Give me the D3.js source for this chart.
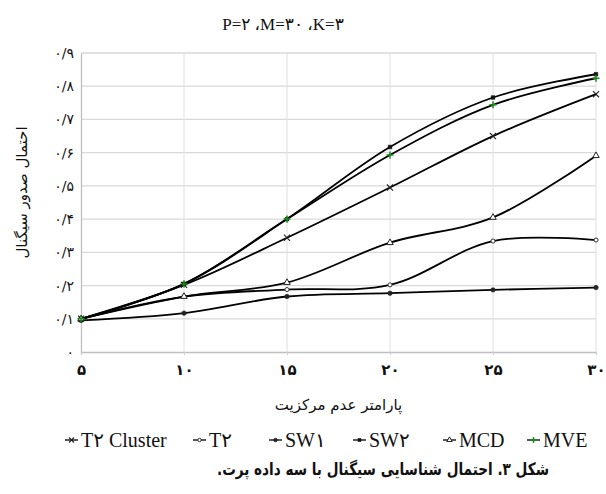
<!DOCTYPE html>
<html>
<head>
<meta charset="utf-8">
<script src="https://cdn.jsdelivr.net/npm/d3@7"></script>
<style>
html,body{margin:0;padding:0;background:#fff;}
svg{display:block;}
</style>
</head>
<body>
<svg id="chart" width="606" height="494"></svg>
<script>
const xValues = [5, 10, 15, 20, 25, 30];
const xTickLabels = ["۵", "۱۰", "۱۵", "۲۰", "۲۵", "۳۰"];
const yTicks = [0, 0.1, 0.2, 0.3, 0.4, 0.5, 0.6, 0.7, 0.8, 0.9];
const yTickLabels = ["۰", "۰/۱", "۰/۲", "۰/۳", "۰/۴", "۰/۵", "۰/۶", "۰/۷", "۰/۸", "۰/۹"];

const seriesNames = ["T۲ Cluster", "T۲", "SW۱", "SW۲", "MCD", "MVE"];
const t2Cluster = [0.100, 0.202, 0.344, 0.495, 0.650, 0.776];
const t2        = [0.100, 0.167, 0.188, 0.202, 0.334, 0.337];
const sw1       = [0.095, 0.117, 0.167, 0.177, 0.187, 0.194];
const sw2       = [0.100, 0.205, 0.400, 0.617, 0.766, 0.836];
const mcd       = [0.100, 0.167, 0.209, 0.329, 0.405, 0.591];
const mve       = [0.100, 0.205, 0.400, 0.593, 0.744, 0.824];

const titleText = "P=۲ ،M=۳۰ ،K=۳";
const yTitle = "احتمال صدور سیگنال";
const xTitle = "پارامتر عدم مرکزیت";
const caption = "شکل ۳. احتمال شناسایی سیگنال با سه داده پرت.";

const seriesData = [t2Cluster, t2, sw1, sw2, mcd, mve];
const markerTypes = ["x", "circle", "dot", "square", "triangle", "plus"];
const markerColors = ["#222", "#333", "#222", "#111", "#222", "#1a8a1a"];

const svg = d3.select("#chart");
const mixed = "'Liberation Serif','DejaVu Sans',serif";

const x = d3.scaleLinear().domain([5, 30]).range([81, 596]);
const y = d3.scaleLinear().domain([0, 0.9]).range([352, 53]);

// gridlines
svg.append("g").selectAll("line.h").data(yTicks.slice(1)).join("line")
  .attr("x1", x(5)).attr("x2", x(30))
  .attr("y1", d => y(d)).attr("y2", d => y(d))
  .attr("stroke", "#d9d9d9").attr("stroke-width", 1.3);
svg.append("g").selectAll("line.v").data(xValues.slice(1)).join("line")
  .attr("x1", d => x(d)).attr("x2", d => x(d))
  .attr("y1", y(0.9)).attr("y2", y(0))
  .attr("stroke", "#e0e0e0").attr("stroke-width", 1);

// axes
const xAxis = d3.axisBottom(x).tickValues(xValues).tickSize(3)
  .tickFormat((d, i) => xTickLabels[i]);
const gx = svg.append("g").attr("transform", `translate(0,${y(0)})`).call(xAxis);
gx.select(".domain").attr("stroke", "#bfbfbf").attr("stroke-width", 1.3);
gx.selectAll(".tick line").attr("stroke", "#d0d0d0");
gx.selectAll(".tick text").attr("dy", "1.1em")
  .style("font-family", "'DejaVu Sans',sans-serif").style("font-size", "15px")
  .style("font-weight", "bold").attr("fill", "#111");

const yAxis = d3.axisLeft(y).tickValues(yTicks).tickSize(0).tickPadding(7)
  .tickFormat((d, i) => yTickLabels[i]);
const gy = svg.append("g").attr("transform", `translate(${x(5)},0)`).call(yAxis);
gy.select(".domain").attr("stroke", "#bfbfbf").attr("stroke-width", 1.3);
gy.selectAll(".tick text").style("font-family", "'DejaVu Sans',sans-serif")
  .style("font-size", "14px").attr("fill", "#111");

// lines
const line = d3.line().x((d, i) => x(xValues[i])).y(d => y(d))
  .curve(d3.curveCatmullRom.alpha(0.5));
svg.append("g").selectAll("path").data(seriesData).join("path")
  .attr("d", d => line(d)).attr("fill", "none")
  .attr("stroke", "#000").attr("stroke-width", 1.8);

function drawMarker(g, type, color, cx, cy, s) {
  const m = g.append("g").attr("transform", `translate(${cx},${cy})`);
  if (type === "x") {
    m.append("path").attr("d", d3.symbol(d3.symbolX, s * 10)())
      .attr("fill", "none").attr("stroke", color).attr("stroke-width", 1.1);
  } else if (type === "plus") {
    m.append("path").attr("d", d3.symbol(d3.symbolPlus, s * 7)())
      .attr("fill", "none").attr("stroke", color).attr("stroke-width", 1.5);
  } else if (type === "circle") {
    m.append("path").attr("d", d3.symbol(d3.symbolCircle, s * 5)())
      .attr("fill", "#fff").attr("stroke", color).attr("stroke-width", 1);
  } else if (type === "dot") {
    m.append("path").attr("d", d3.symbol(d3.symbolCircle, s * 6)())
      .attr("fill", color).attr("stroke", color).attr("stroke-width", 0.6);
  } else if (type === "square") {
    m.append("path").attr("d", d3.symbol(d3.symbolSquare, s * 5)())
      .attr("fill", color).attr("stroke", color).attr("stroke-width", 0.6);
  } else if (type === "triangle") {
    m.append("path").attr("d", d3.symbol(d3.symbolTriangle, s * 7)())
      .attr("fill", "#fff").attr("stroke", color).attr("stroke-width", 1);
  }
}

const markersG = svg.append("g");
seriesData.forEach((vals, si) => {
  vals.forEach((v, i) => {
    drawMarker(markersG, markerTypes[si], markerColors[si], x(xValues[i]), y(v), 2.6);
  });
});

// title
svg.append("text").attr("x", 283).attr("y", 30).attr("text-anchor", "middle")
  .style("font-family", mixed).style("font-size", "17px").attr("fill", "#111")
  .text(titleText);

// y title
svg.append("text").attr("transform", `translate(27,${(y(0) + y(0.9)) / 2 - 10}) rotate(-90)`)
  .attr("text-anchor", "middle").style("font-family", "'DejaVu Sans',sans-serif")
  .style("font-size", "15px").attr("fill", "#111").attr("direction", "rtl")
  .text(yTitle);

// x title
svg.append("text").attr("x", (x(5) + x(30)) / 2).attr("y", 410).attr("text-anchor", "middle")
  .style("font-family", "'DejaVu Sans',sans-serif").style("font-size", "15px")
  .attr("fill", "#111").attr("direction", "rtl").text(xTitle);

// legend
const legendX = [65, 193, 269, 353, 443, 527];
const legendY = 440;
const lg = svg.append("g");
seriesNames.forEach((name, i) => {
  lg.append("line").attr("x1", legendX[i]).attr("x2", legendX[i] + 13)
    .attr("y1", legendY).attr("y2", legendY).attr("stroke", "#000").attr("stroke-width", 1.3);
  drawMarker(lg, markerTypes[i], markerColors[i], legendX[i] + 6.5, legendY, 1.8);
  lg.append("text").attr("x", legendX[i] + 16).attr("y", legendY + 7)
    .style("font-family", mixed).style("font-size", "20px").attr("fill", "#111")
    .text(name);
});

// caption
svg.append("text").attr("x", 383).attr("y", 475).attr("text-anchor", "middle")
  .style("font-family", "'DejaVu Sans',sans-serif").style("font-size", "17px")
  .style("font-weight", "bold").attr("fill", "#111").attr("direction", "rtl")
  .attr("textLength", 332).attr("lengthAdjust", "spacingAndGlyphs")
  .text(caption);
</script>
</body>
</html>
